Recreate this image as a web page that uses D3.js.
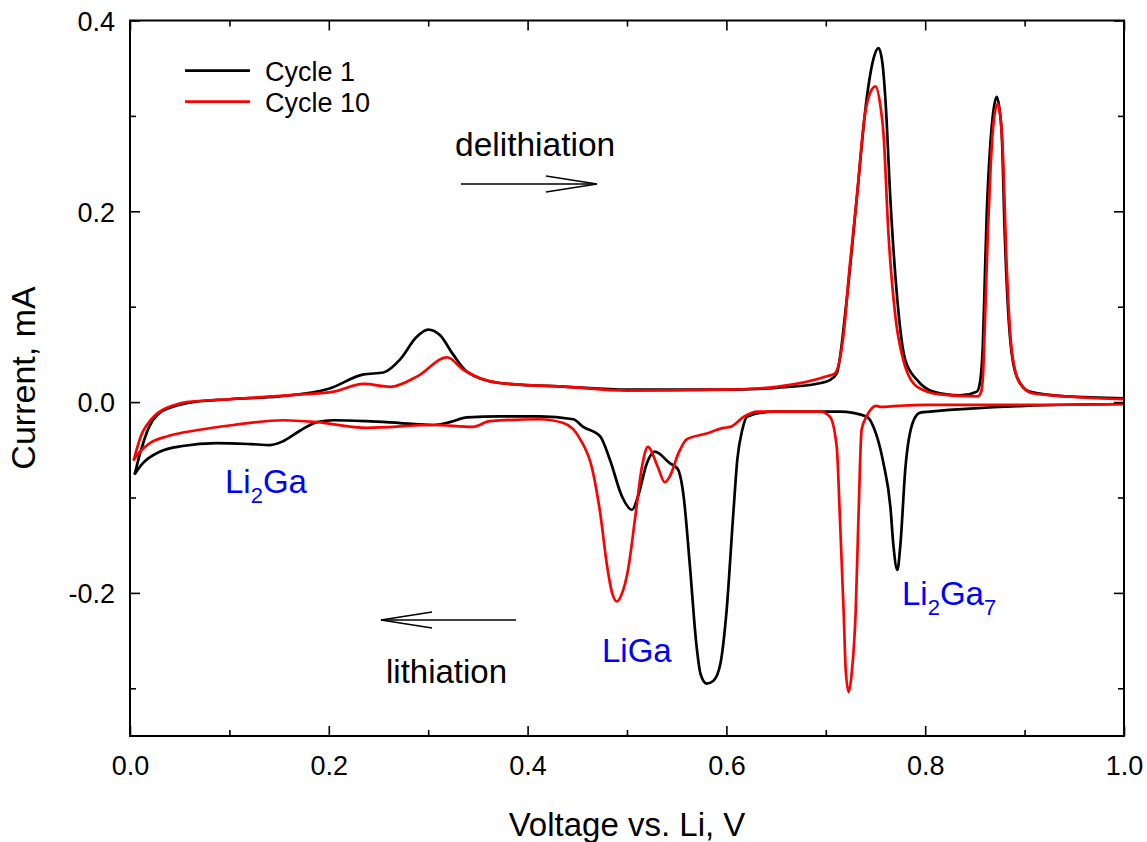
<!DOCTYPE html>
<html>
<head>
<meta charset="utf-8">
<script src="https://cdn.jsdelivr.net/npm/d3@7"></script>
<style>
  html, body { margin: 0; padding: 0; background: #fff; }
  svg { display: block; }
  text { font-family: "Liberation Sans", Arial, sans-serif; fill: #000; }
</style>
</head>
<body>
<svg id="chart" width="1147" height="842"></svg>
<script>
// ---------------- DATA ----------------
const seriesNames = ["Cycle 1", "Cycle 10"];
const seriesColors = ["#000000", "#ff0000"];

// Cycle 1, anodic branch (delithiation), voltage increasing
const c1UpV = [0.005, 0.009, 0.013, 0.018, 0.023, 0.030, 0.040, 0.057, 0.100, 0.150, 0.200, 0.235, 0.255, 0.272, 0.288, 0.300, 0.312, 0.325, 0.339, 0.372, 0.440, 0.500, 0.600, 0.650, 0.690, 0.704, 0.711, 0.721, 0.731, 0.741, 0.748, 0.753, 0.757, 0.760, 0.765, 0.772, 0.780, 0.792, 0.808, 0.835, 0.852, 0.855, 0.858, 0.860, 0.862, 0.865, 0.868, 0.872, 0.875, 0.877, 0.880, 0.885, 0.892, 0.905, 0.942, 1.000];
const c1UpI = [-0.075, -0.058, -0.044, -0.029, -0.019, -0.011, -0.006, -0.001, 0.003, 0.006, 0.014, 0.029, 0.031, 0.045, 0.068, 0.076, 0.070, 0.050, 0.032, 0.020, 0.016, 0.013, 0.013, 0.015, 0.019, 0.023, 0.030, 0.107, 0.212, 0.317, 0.360, 0.371, 0.355, 0.317, 0.212, 0.107, 0.044, 0.023, 0.011, 0.007, 0.011, 0.020, 0.060, 0.130, 0.200, 0.262, 0.300, 0.320, 0.305, 0.282, 0.177, 0.072, 0.027, 0.011, 0.006, 0.004];

// Cycle 1, cathodic branch (lithiation), voltage decreasing
const c1DownV = [1.000, 0.900, 0.805, 0.795, 0.788, 0.780, 0.775, 0.772, 0.768, 0.765, 0.758, 0.748, 0.741, 0.714, 0.647, 0.621, 0.616, 0.611, 0.607, 0.600, 0.594, 0.587, 0.580, 0.574, 0.570, 0.563, 0.557, 0.551, 0.543, 0.528, 0.520, 0.511, 0.505, 0.495, 0.483, 0.473, 0.456, 0.446, 0.412, 0.372, 0.339, 0.322, 0.305, 0.272, 0.238, 0.205, 0.188, 0.171, 0.154, 0.141, 0.121, 0.087, 0.053, 0.030, 0.013, 0.005];
const c1DownI = [-0.002, -0.004, -0.010, -0.011, -0.020, -0.070, -0.150, -0.176, -0.150, -0.110, -0.064, -0.026, -0.015, -0.010, -0.010, -0.015, -0.029, -0.060, -0.116, -0.221, -0.274, -0.292, -0.295, -0.285, -0.256, -0.168, -0.099, -0.070, -0.064, -0.052, -0.064, -0.099, -0.113, -0.099, -0.061, -0.036, -0.026, -0.018, -0.015, -0.015, -0.016, -0.021, -0.024, -0.022, -0.020, -0.019, -0.021, -0.030, -0.041, -0.045, -0.044, -0.043, -0.046, -0.052, -0.064, -0.075];

// Cycle 10, anodic branch
const c10UpV = [0.004, 0.008, 0.012, 0.017, 0.025, 0.033, 0.045, 0.057, 0.100, 0.171, 0.205, 0.235, 0.262, 0.289, 0.319, 0.335, 0.372, 0.440, 0.500, 0.600, 0.650, 0.701, 0.709, 0.718, 0.724, 0.731, 0.739, 0.745, 0.750, 0.755, 0.758, 0.763, 0.770, 0.778, 0.792, 0.815, 0.853, 0.856, 0.858, 0.860, 0.863, 0.866, 0.869, 0.873, 0.876, 0.878, 0.882, 0.887, 0.895, 0.909, 1.000];
const c10UpI = [-0.060, -0.045, -0.033, -0.024, -0.014, -0.008, -0.003, 0.000, 0.003, 0.008, 0.011, 0.019, 0.016, 0.027, 0.047, 0.034, 0.020, 0.016, 0.012, 0.013, 0.016, 0.027, 0.030, 0.072, 0.142, 0.212, 0.299, 0.325, 0.331, 0.310, 0.282, 0.177, 0.090, 0.044, 0.016, 0.008, 0.006, 0.010, 0.025, 0.080, 0.177, 0.250, 0.295, 0.313, 0.295, 0.264, 0.142, 0.055, 0.020, 0.009, 0.003];

// Cycle 10, cathodic branch
const c10DownV = [1.000, 0.900, 0.800, 0.772, 0.755, 0.751, 0.745, 0.741, 0.736, 0.733, 0.730, 0.726, 0.723, 0.720, 0.718, 0.714, 0.711, 0.704, 0.694, 0.631, 0.618, 0.604, 0.597, 0.580, 0.560, 0.552, 0.543, 0.538, 0.531, 0.521, 0.515, 0.508, 0.501, 0.494, 0.490, 0.485, 0.480, 0.473, 0.465, 0.453, 0.436, 0.412, 0.362, 0.345, 0.305, 0.238, 0.188, 0.154, 0.104, 0.070, 0.037, 0.020, 0.010, 0.004];
const c10DownI = [-0.002, -0.003, -0.003, -0.004, -0.005, -0.004, -0.008, -0.015, -0.029, -0.116, -0.221, -0.285, -0.304, -0.280, -0.221, -0.116, -0.047, -0.015, -0.010, -0.010, -0.015, -0.026, -0.027, -0.033, -0.039, -0.053, -0.078, -0.084, -0.068, -0.047, -0.068, -0.123, -0.176, -0.203, -0.209, -0.200, -0.172, -0.116, -0.070, -0.039, -0.022, -0.018, -0.020, -0.026, -0.024, -0.027, -0.021, -0.019, -0.024, -0.029, -0.036, -0.043, -0.052, -0.060];

const xMajorTicks = [0.0, 0.2, 0.4, 0.6, 0.8, 1.0];
const xMinorTicks = [0.1, 0.3, 0.5, 0.7, 0.9];
const yMajorTicks = [-0.2, 0.0, 0.2, 0.4];
const yMinorTicks = [-0.3, -0.1, 0.1, 0.3];

const xTitle = "Voltage vs. Li, V";
const yTitle = "Current, mA";

// ---------------- LAYOUT ----------------
const svg = d3.select("#chart");
const L = 130, R = 1124, T = 20.5, B = 736;
const x = d3.scaleLinear().domain([0, 1]).range([L, R]);
const y = d3.scaleLinear().domain([-0.35, 0.4]).range([B, T]);

const line = d3.line()
  .x(d => x(d[0])).y(d => y(d[1]))
  .curve(d3.curveMonotoneX);

const zip = (a, b) => a.map((v, i) => [v, b[i]]);
const branches = [
  { pts: zip(c1UpV, c1UpI), c: 0 },
  { pts: zip(c1DownV, c1DownI), c: 0 },
  { pts: zip(c10UpV, c10UpI), c: 1 },
  { pts: zip(c10DownV, c10DownI), c: 1 }
];

svg.append("defs").append("clipPath").attr("id", "clip")
  .append("rect").attr("x", L).attr("y", T).attr("width", R - L).attr("height", B - T);

const curves = svg.append("g").attr("clip-path", "url(#clip)");
branches.forEach(b => {
  curves.append("path")
    .attr("d", line(b.pts))
    .attr("fill", "none")
    .attr("stroke", seriesColors[b.c])
    .attr("stroke-width", 2.7)
    .attr("stroke-linejoin", "round")
    .attr("stroke-linecap", "round");
});

// axes
const fmt = v => d3.format(".1f")(v).replace("\u2212", "-");
function styleAxis(g) {
  g.select(".domain").remove();
  g.selectAll("line").attr("stroke", "#000").attr("stroke-width", 1.6);
  g.selectAll("text").style("font-family", '"Liberation Sans", Arial, sans-serif').attr("font-size", 27).attr("fill", "#000");
}

svg.append("g").attr("transform", `translate(0,${B})`)
  .call(d3.axisBottom(x).tickValues(xMajorTicks).tickSize(-10).tickFormat(fmt))
  .call(styleAxis)
  .call(g => g.selectAll("text").attr("y", 39).attr("dy", 0));
svg.append("g").attr("transform", `translate(0,${B})`)
  .call(d3.axisBottom(x).tickValues(xMinorTicks).tickSize(-6).tickFormat(""))
  .call(styleAxis);
svg.append("g").attr("transform", `translate(0,${T})`)
  .call(d3.axisTop(x).tickValues(xMajorTicks).tickSize(-10).tickFormat(""))
  .call(styleAxis);
svg.append("g").attr("transform", `translate(0,${T})`)
  .call(d3.axisTop(x).tickValues(xMinorTicks).tickSize(-6).tickFormat(""))
  .call(styleAxis);

svg.append("g").attr("transform", `translate(${L},0)`)
  .call(d3.axisLeft(y).tickValues(yMajorTicks).tickSize(-10).tickPadding(15).tickFormat(fmt))
  .call(styleAxis)
  .call(g => g.selectAll("text").attr("dy", "0.36em"));
svg.append("g").attr("transform", `translate(${L},0)`)
  .call(d3.axisLeft(y).tickValues(yMinorTicks).tickSize(-6).tickFormat(""))
  .call(styleAxis);
svg.append("g").attr("transform", `translate(${R},0)`)
  .call(d3.axisRight(y).tickValues(yMajorTicks).tickSize(-10).tickFormat(""))
  .call(styleAxis);
svg.append("g").attr("transform", `translate(${R},0)`)
  .call(d3.axisRight(y).tickValues(yMinorTicks).tickSize(-6).tickFormat(""))
  .call(styleAxis);

// frame
svg.append("rect")
  .attr("x", L).attr("y", T).attr("width", R - L).attr("height", B - T)
  .attr("fill", "none").attr("stroke", "#000").attr("stroke-width", 2);

// axis titles
svg.append("text")
  .attr("x", (L + R) / 2).attr("y", 836)
  .attr("text-anchor", "middle").attr("font-size", 33)
  .text(xTitle);
svg.append("text")
  .attr("transform", `translate(35,${378}) rotate(-90)`)
  .attr("text-anchor", "middle").attr("font-size", 34)
  .text(yTitle);

// legend
const legendY = [70.7, 101.7];
seriesNames.forEach((name, i) => {
  svg.append("line")
    .attr("x1", 185).attr("x2", 250)
    .attr("y1", legendY[i]).attr("y2", legendY[i])
    .attr("stroke", seriesColors[i]).attr("stroke-width", 2.7);
  svg.append("text")
    .attr("x", 265).attr("y", legendY[i] + 10)
    .attr("font-size", 27)
    .text(name);
});

// annotations
svg.append("text").attr("x", 455).attr("y", 156).attr("font-size", 33.5).text("delithiation");
svg.append("text").attr("x", 386).attr("y", 683).attr("font-size", 33).text("lithiation");

function arrow(x1, x2, yy, dir) {
  const g = svg.append("g").attr("stroke", "#000").attr("stroke-width", 1.3).attr("fill", "none");
  g.append("line").attr("x1", x1).attr("x2", x2).attr("y1", yy).attr("y2", yy);
  const tip = dir > 0 ? x2 : x1;
  const back = tip - dir * 51;
  g.append("polyline").attr("points", `${back},${yy - 8} ${tip},${yy} ${back},${yy + 8}`);
}
arrow(461, 597, 184, 1);
arrow(381, 516, 620, -1);

// phase labels (blue)
const blue = "#0000ff";
function phaseLabel(xx, yy, parts) {
  const t = svg.append("text").attr("x", xx).attr("y", yy).attr("font-size", 33).attr("fill", blue);
  let shifted = 0;
  parts.forEach(p => {
    const span = t.append("tspan").text(p.t).attr("fill", blue);
    if (p.sub) {
      span.attr("font-size", 22).attr("dy", 10 - shifted);
      shifted = 10;
    } else {
      span.attr("dy", -shifted);
      shifted = 0;
    }
  });
}
phaseLabel(225, 493, [{t: "Li"}, {t: "2", sub: true}, {t: "Ga"}]);
phaseLabel(602, 662, [{t: "LiGa"}]);
phaseLabel(902, 605, [{t: "Li"}, {t: "2", sub: true}, {t: "Ga"}, {t: "7", sub: true}]);
</script>
</body>
</html>
